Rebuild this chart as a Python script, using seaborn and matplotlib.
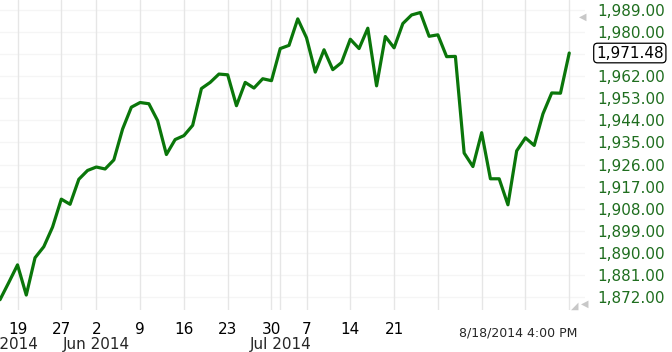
# S&P 500 daily closes, mid-May to 18 Aug 2014, drawn on a trading-day axis

import numpy as np
import pandas as pd
import matplotlib
matplotlib.use("Agg")
import matplotlib.pyplot as plt
import matplotlib.transforms as mtransforms
import seaborn as sns

# Trading dates and closing values
dates = ["2014-05-15", "2014-05-16", "2014-05-19", "2014-05-20", "2014-05-21", "2014-05-22",
         "2014-05-23", "2014-05-27", "2014-05-28", "2014-05-29", "2014-05-30", "2014-06-02",
         "2014-06-03", "2014-06-04", "2014-06-05", "2014-06-06", "2014-06-09", "2014-06-10",
         "2014-06-11", "2014-06-12", "2014-06-13", "2014-06-16", "2014-06-17", "2014-06-18",
         "2014-06-19", "2014-06-20", "2014-06-23", "2014-06-24", "2014-06-25", "2014-06-26",
         "2014-06-27", "2014-06-30", "2014-07-01", "2014-07-02", "2014-07-03", "2014-07-07",
         "2014-07-08", "2014-07-09", "2014-07-10", "2014-07-11", "2014-07-14", "2014-07-15",
         "2014-07-16", "2014-07-17", "2014-07-18", "2014-07-21", "2014-07-22", "2014-07-23",
         "2014-07-24", "2014-07-25", "2014-07-28", "2014-07-29", "2014-07-30", "2014-07-31",
         "2014-08-01", "2014-08-04", "2014-08-05", "2014-08-06", "2014-08-07", "2014-08-08",
         "2014-08-11", "2014-08-12", "2014-08-13", "2014-08-14", "2014-08-15", "2014-08-18"]
closes = [1870.9, 1877.9, 1885.1, 1872.8, 1888.0, 1892.5, 1900.5, 1911.9, 1909.8, 1920.0,
          1923.6, 1925.0, 1924.2, 1927.9, 1940.5, 1949.4, 1951.3, 1950.8, 1943.9, 1930.1,
          1936.2, 1937.8, 1942.0, 1957.0, 1959.5, 1962.9, 1962.6, 1950.0, 1959.5, 1957.2,
          1961.0, 1960.2, 1973.3, 1974.6, 1985.4, 1977.7, 1963.7, 1972.8, 1964.7, 1967.6,
          1977.1, 1973.3, 1981.6, 1958.1, 1978.2, 1973.6, 1983.5, 1987.0, 1988.0, 1978.3,
          1978.9, 1970.0, 1970.1, 1930.7, 1925.2, 1939.0, 1920.2, 1920.2, 1909.6, 1931.6,
          1936.9, 1933.8, 1946.7, 1955.2, 1955.1, 1971.48]

# Axis labels
day_labels = ["19", "27", "2", "9", "16", "23", "30", "7", "14", "21"]
day_dates = ["2014-05-19", "2014-05-27", "2014-06-02", "2014-06-09", "2014-06-16",
             "2014-06-23", "2014-06-30", "2014-07-07", "2014-07-14", "2014-07-21"]
grid_dates = ["2014-05-19", "2014-05-27", "2014-06-02", "2014-06-09", "2014-06-16",
              "2014-06-23", "2014-06-30", "2014-07-01", "2014-07-07", "2014-07-14",
              "2014-07-21", "2014-07-28", "2014-08-04", "2014-08-11", "2014-08-18"]
month_labels = ["May 2014", "Jun 2014", "Jul 2014"]
month_dates = [None, "2014-06-02", "2014-07-01"]
y_ticks = [1872, 1881, 1890, 1899, 1908, 1917, 1926, 1935, 1944, 1953, 1962, 1971, 1980, 1989]
last_label = "1,971.48"
time_stamp = "8/18/2014 4:00 PM"

df = pd.DataFrame({"date": dates, "close": closes})
df["idx"] = np.arange(len(df))
pos = dict(zip(df["date"], df["idx"]))

sns.set_style("white")
plt.rcParams["font.family"] = ["DejaVu Sans"]

fig = plt.figure(figsize=(6.72, 3.52), dpi=100)
ax = fig.add_axes([0, 1 - 310 / 352, 585 / 672, 310 / 352])

sns.lineplot(data=df, x="idx", y="close", color="#0a760a", linewidth=2.3, ax=ax, zorder=3)

ax.set_xlim(0, 66.8)
ax.set_ylim(1866.7, 1993.1)

# vertical week lines
for d in grid_dates:
    ax.axvline(pos[d], color="#e6e6e6", linewidth=1, zorder=1)

ax.set_xticks([pos[d] for d in day_dates])
ax.set_xticklabels(day_labels)
ax.tick_params(axis="x", length=0, pad=9, labelsize=11, labelcolor="black")

# right-hand value axis
ax.yaxis.tick_right()
ax.set_yticks(y_ticks)
ax.set_yticklabels([f"{v:,.2f}" if v != 1971 else "" for v in y_ticks])
ax.grid(True, which="major", axis="y", color="#f5f5f5", linewidth=1, zorder=0)
ax.tick_params(axis="y", length=0, pad=9, labelsize=11, labelcolor="#1f6e1f")

for s in ax.spines.values():
    s.set_visible(False)
ax.set_xlabel("")
ax.set_ylabel("")

# month labels under the day numbers
trans = mtransforms.blended_transform_factory(ax.transData, fig.transFigure)
for lab, d in zip(month_labels, month_dates):
    if d is None:
        ax.text(4.35, 1 - 344 / 352, lab, transform=trans, ha="right", va="center",
                fontsize=11, clip_on=False)
    else:
        ax.text(pos[d], 1 - 344 / 352, lab, transform=trans, ha="center", va="center",
                fontsize=11, clip_on=False)

# current value box on the axis
ytrans = mtransforms.blended_transform_factory(fig.transFigure, ax.transData)
ax.text(596 / 672, closes[-1], last_label, transform=ytrans, ha="left", va="center",
        fontsize=11, color="black", clip_on=False,
        bbox=dict(boxstyle="round,pad=0.15,rounding_size=0.25", fc="white", ec="black", lw=0.9))

fig.text(518 / 672, 1 - 333 / 352, time_stamp, ha="center", va="center", fontsize=9)

# small scroll arrows
fig.text(583 / 672, 1 - 17 / 352, "◀", ha="center", va="center", fontsize=7, color="#c8c8c8")
fig.text(585 / 672, 1 - 304 / 352, "◀", ha="center", va="center", fontsize=7, color="#c8c8c8")
fig.text(575 / 672, 1 - 306 / 352, "◢", ha="center", va="center", fontsize=7, color="#c8c8c8")

fig.savefig("out.png", dpi=100, facecolor="white")
